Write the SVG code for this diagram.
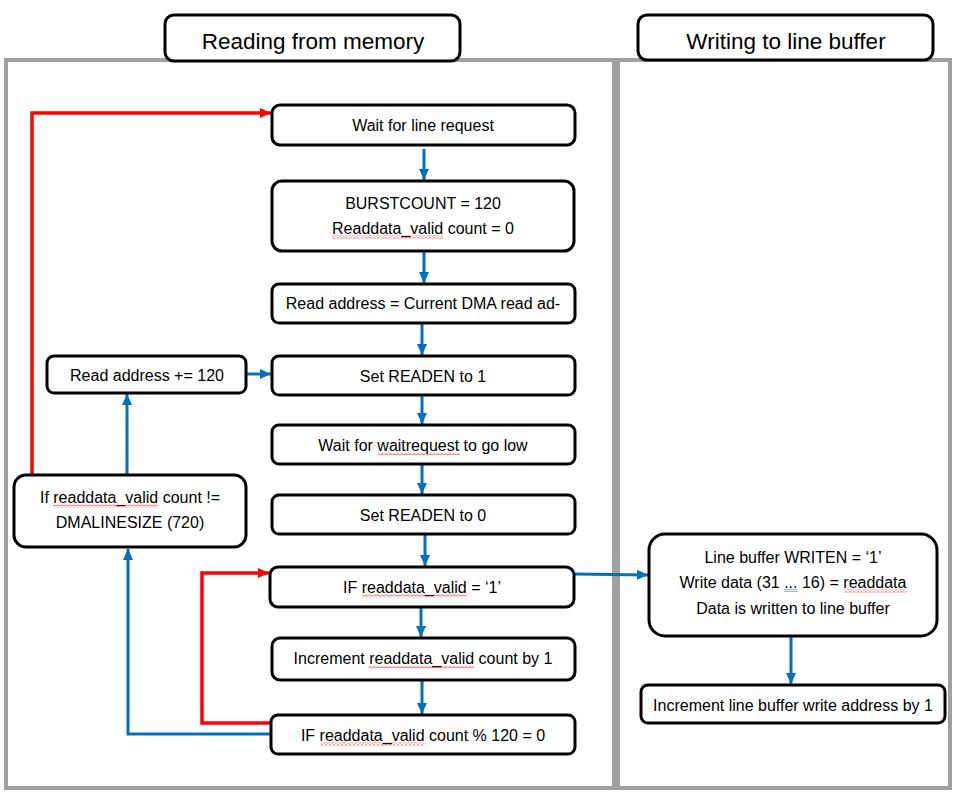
<svg xmlns="http://www.w3.org/2000/svg" width="959" height="795" viewBox="0 0 959 795">
<defs>
<style>
.panel{fill:#fff;stroke:#a0a0a0;stroke-width:4}
.hdr{fill:#fff;stroke:#000;stroke-width:3}
.node{fill:#fff;stroke:#000;stroke-width:3}
.ht{font-family:"Liberation Sans",Arial,sans-serif;font-size:22.5px;fill:#000;text-anchor:middle}
.t{font-family:"Liberation Sans",Arial,sans-serif;font-size:16px;fill:#000;text-anchor:middle}
.blue{fill:none;stroke:#0070c0;stroke-width:3}
.red{fill:none;stroke:#ff0000;stroke-width:3.5}
.wave{fill:url(#wv)}
.dbl{stroke:#8fb8c6;stroke-width:1}
</style>
<pattern id="wv" patternUnits="userSpaceOnUse" width="4" height="3">
<path d="M0,2.5 L2,0.5 L4,2.5" fill="none" stroke="#ff0000" stroke-width="0.8"/>
</pattern>
<marker id="ab" markerUnits="userSpaceOnUse" markerWidth="12" markerHeight="12" viewBox="0 0 12 12" refX="11" refY="6" orient="auto">
<path d="M0,1 L11,6 L0,11 Z" fill="#0070c0"/>
</marker>
<marker id="ar" markerUnits="userSpaceOnUse" markerWidth="12" markerHeight="12" viewBox="0 0 12 12" refX="11" refY="6" orient="auto">
<path d="M0,1 L11,6 L0,11 Z" fill="#ff0000"/>
</marker>
</defs>
<rect width="959" height="795" fill="#fff"/>
<g id="panels">
<rect class="panel" x="6" y="60" width="608" height="728"/>
<rect class="panel" x="618" y="60" width="332" height="728"/>
</g>
<g id="hdr-read">
<rect class="hdr" x="165" y="15" width="295" height="46" rx="9"/>
<text class="ht" x="313" y="49">Reading from memory</text>
</g>
<g id="hdr-write">
<rect class="hdr" x="638" y="15" width="295" height="45" rx="9"/>
<text class="ht" x="786" y="49">Writing to line buffer</text>
</g>
<g id="connectors">
<line class="blue" x1="424" y1="149" x2="424" y2="180" marker-end="url(#ab)"/>
<line class="blue" x1="424" y1="252" x2="424" y2="283" marker-end="url(#ab)"/>
<line class="blue" x1="422" y1="323" x2="422" y2="355" marker-end="url(#ab)"/>
<line class="blue" x1="422" y1="395" x2="422" y2="424" marker-end="url(#ab)"/>
<line class="blue" x1="422" y1="464" x2="422" y2="494" marker-end="url(#ab)"/>
<line class="blue" x1="425" y1="535" x2="425" y2="566" marker-end="url(#ab)"/>
<line class="blue" x1="421" y1="607" x2="421" y2="637" marker-end="url(#ab)"/>
<line class="blue" x1="422" y1="680" x2="422" y2="714" marker-end="url(#ab)"/>
<line class="blue" x1="247" y1="374" x2="271" y2="374" marker-end="url(#ab)"/>
<line class="blue" x1="127" y1="474" x2="127" y2="394" marker-end="url(#ab)"/>
<polyline class="blue" points="271,734 128,734 128,549" marker-end="url(#ab)"/>
<line class="blue" x1="575" y1="574" x2="648" y2="575" marker-end="url(#ab)"/>
<line class="blue" x1="791" y1="637" x2="791" y2="684" marker-end="url(#ab)"/>
<polyline class="red" points="32,474 32,113 271,113" marker-end="url(#ar)"/>
<polyline class="red" points="270,723 202,723 202,573 269,573" marker-end="url(#ar)"/>
</g>
<g id="n-wait-line">
<rect class="node" x="272" y="105" width="303" height="40" rx="8"/>
<text class="t" x="423" y="131">Wait for line request</text>
</g>
<g id="n-burst">
<rect class="node" x="272" y="181" width="302" height="70" rx="10"/>
<text class="t" x="423" y="209">BURSTCOUNT = 120</text>
<text class="t" x="423" y="234">Readdata_valid count = 0</text>
<rect class="wave" x="332" y="235.5" width="111" height="3"/>
</g>
<g id="n-read-addr">
<rect class="node" x="272" y="284" width="303" height="39" rx="7"/>
<text class="t" x="423" y="309">Read address = Current DMA read ad-</text>
</g>
<g id="n-readen1">
<rect class="node" x="272" y="356" width="303" height="39" rx="7"/>
<text class="t" x="423" y="382">Set READEN to 1</text>
</g>
<g id="n-waitreq">
<rect class="node" x="272" y="425" width="303" height="39" rx="7"/>
<text class="t" x="423" y="451">Wait for waitrequest to go low</text>
<rect class="wave" x="378" y="452.5" width="82" height="3"/>
</g>
<g id="n-readen0">
<rect class="node" x="272" y="495" width="303" height="39" rx="7"/>
<text class="t" x="423" y="521">Set READEN to 0</text>
</g>
<g id="n-if-valid">
<rect class="node" x="270" y="567" width="304" height="40" rx="8"/>
<text class="t" x="422" y="593">IF readdata_valid = ‘1’</text>
<rect class="wave" x="362" y="594.5" width="105" height="3"/>
</g>
<g id="n-increment">
<rect class="node" x="272" y="638" width="303" height="42" rx="8"/>
<text class="t" x="423" y="664">Increment readdata_valid count by 1</text>
<rect class="wave" x="369" y="665.5" width="105" height="3"/>
</g>
<g id="n-if-mod">
<rect class="node" x="271" y="715" width="304" height="39" rx="7"/>
<text class="t" x="423" y="741">IF readdata_valid count % 120 = 0</text>
<rect class="wave" x="320" y="742.5" width="105" height="3"/>
</g>
<g id="n-addr-inc">
<rect class="node" x="47" y="356" width="199" height="37" rx="7"/>
<text class="t" x="147" y="381">Read address += 120</text>
</g>
<g id="n-if-line">
<rect class="node" x="14" y="475" width="232" height="72" rx="12"/>
<text class="t" x="130" y="503">If readdata_valid count !=</text>
<rect class="wave" x="53" y="504.5" width="105" height="3"/>
<text class="t" x="130" y="528">DMALINESIZE (720)</text>
</g>
<g id="n-write">
<rect class="node" x="649" y="534" width="288" height="102" rx="16"/>
<text class="t" x="793" y="563">Line buffer WRITEN = ‘1’</text>
<text class="t" x="793" y="588">Write data (31 ... 16) = readdata</text>
<rect class="wave" x="843.5" y="589.5" width="63" height="3"/>
<line class="dbl" x1="784.5" y1="589.5" x2="797.5" y2="589.5"/>
<line class="dbl" x1="784.5" y1="591.5" x2="797.5" y2="591.5"/>
<text class="t" x="793" y="614">Data is written to line buffer</text>
</g>
<g id="n-wr-inc">
<rect class="node" x="641" y="685" width="304" height="38" rx="7"/>
<text class="t" x="793" y="711">Increment line buffer write address by 1</text>
</g>
</svg>
